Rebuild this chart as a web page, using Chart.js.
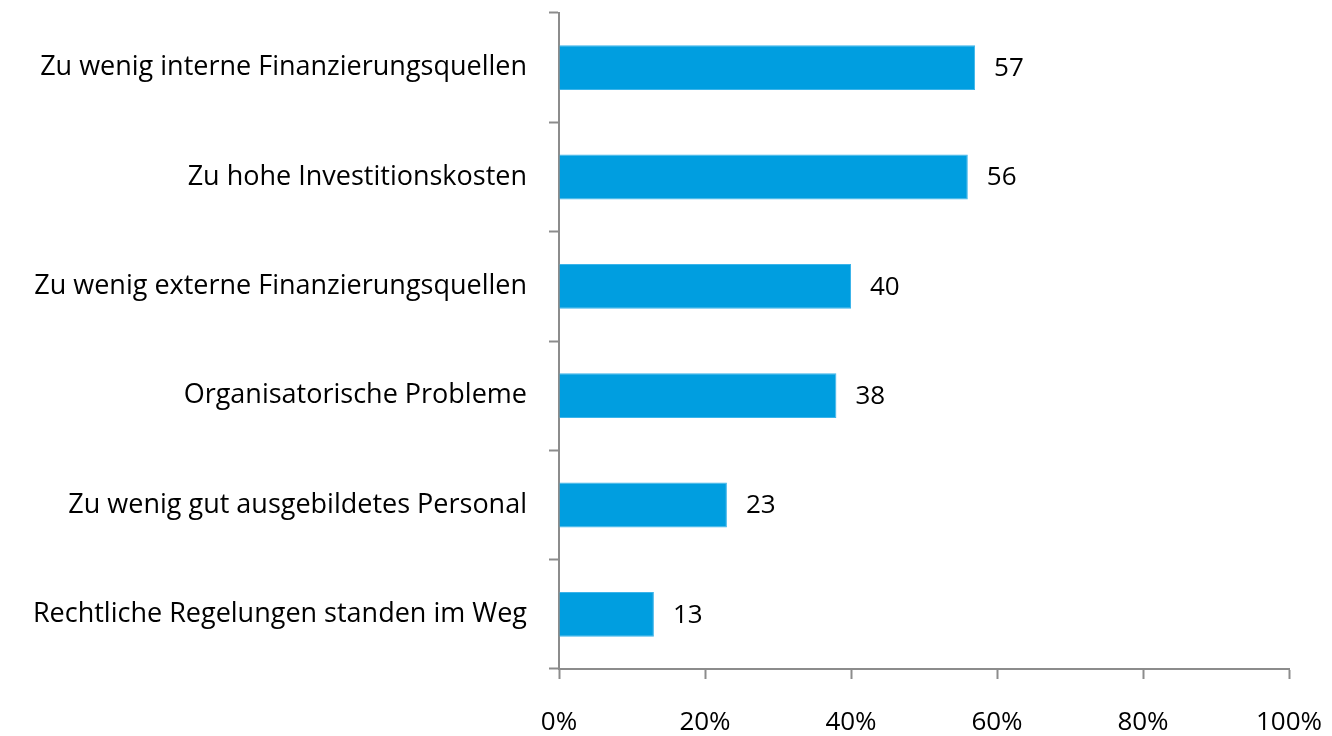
<!DOCTYPE html>
<html>
<head>
<meta charset="utf-8">
<script src="https://cdn.jsdelivr.net/npm/chart.js@4.4.1/dist/chart.umd.min.js"></script>
<style>
  html, body { margin: 0; padding: 0; background: #ffffff; }
  #wrap { width: 1332px; height: 736px; }
</style>
</head>
<body>
<div id="wrap"><canvas id="myChart" width="1332" height="736"></canvas></div>
<script>
'use strict';

// chart data
const categories = [
  'Zu wenig interne Finanzierungsquellen',
  'Zu hohe Investitionskosten',
  'Zu wenig externe Finanzierungsquellen',
  'Organisatorische Probleme',
  'Zu wenig gut ausgebildetes Personal',
  'Rechtliche Regelungen standen im Weg',
];
const shares = [57, 56, 40, 38, 23, 13];
const xTicks = [0, 20, 40, 60, 80, 100];

const axisGrey = '#8c8c8c';
const barBlue = '#009ee0';
const fontFamily = '"Open Sans", Lato, sans-serif';

Chart.defaults.font.family = fontFamily;
Chart.defaults.font.size = 26;
Chart.defaults.color = '#000000';

// draws the value next to each bar
const valueLabels = {
  id: 'valueLabels',
  afterDatasetsDraw(chart) {
    const ctx = chart.ctx;
    const meta = chart.getDatasetMeta(0);
    ctx.save();
    ctx.font = '26px ' + fontFamily;
    ctx.fillStyle = '#000000';
    ctx.textAlign = 'left';
    ctx.textBaseline = 'middle';
    meta.data.forEach((bar, i) => {
      ctx.fillText(String(shares[i]), bar.x + 19, bar.y + 1);
    });
    ctx.restore();
  },
};

const ctx = document.getElementById('myChart').getContext('2d');
const myChart = new Chart(ctx, {
  type: 'bar',
  data: {
    labels: categories,
    datasets: [
      {
        data: shares,
        backgroundColor: barBlue,
        borderColor: '#3cb4ea',
        borderWidth: 1,
        barPercentage: 0.41,
        categoryPercentage: 1,
      },
    ],
  },
  options: {
    indexAxis: 'y',
    responsive: false,
    animation: false,
    layout: {
      padding: { top: 13, right: 43, left: 0, bottom: 0 },
    },
    scales: {
      x: {
        min: 0,
        max: 100,
        afterBuildTicks: (scale) => {
          scale.ticks = xTicks.map((v) => ({ value: v }));
        },
        ticks: {
          callback: (v) => v + '%',
          padding: 28,
          maxRotation: 0,
        },
        grid: {
          drawOnChartArea: false,
          tickLength: 10,
          tickColor: axisGrey,
          tickWidth: 2,
        },
        border: { color: axisGrey, width: 2 },
        afterFit: (scale) => {
          scale.height = 67;
          scale.paddingLeft = 0;
          scale.paddingRight = 0;
        },
      },
      y: {
        ticks: {
          padding: 22,
          font: { size: 27 },
        },
        grid: {
          drawOnChartArea: false,
          offset: true,
          tickLength: 10,
          tickColor: axisGrey,
          tickWidth: 2,
        },
        border: { color: axisGrey, width: 2 },
        afterFit: (scale) => {
          scale.width = 559;
          scale.paddingTop = 0;
          scale.paddingBottom = 0;
        },
      },
    },
    plugins: {
      legend: { display: false },
      tooltip: { enabled: false },
    },
  },
  plugins: [valueLabels],
});
</script>
</body>
</html>
